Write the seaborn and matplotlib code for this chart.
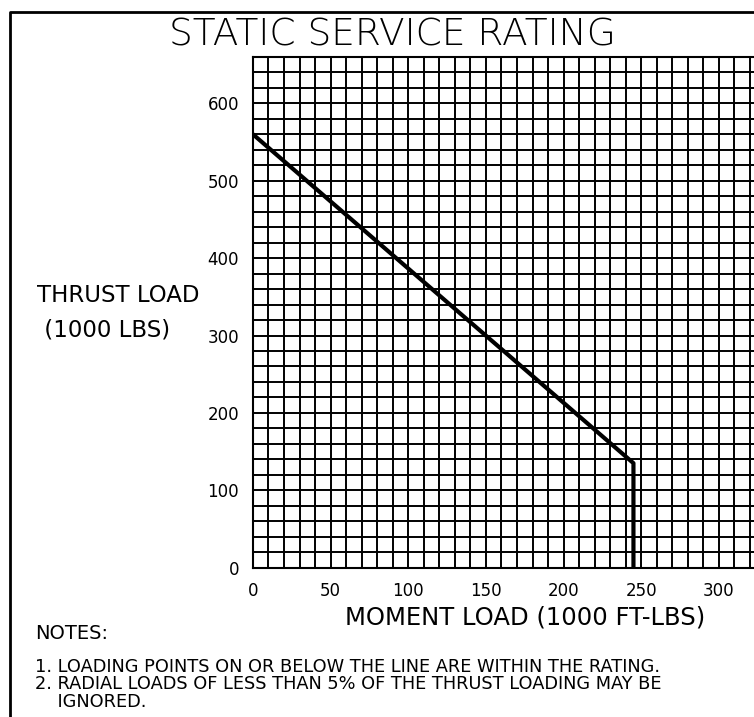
import matplotlib

matplotlib.use("Agg")
import matplotlib.pyplot as plt
import numpy as np
import pandas as pd
import seaborn as sns
from matplotlib.lines import Line2D

# rating line (moment in 1000 ft-lbs, thrust in 1000 lbs)
moment = [0, 245, 245]
thrust = [560, 135, 0]

x_ticks = [0, 50, 100, 150, 200, 250, 300]
y_ticks = [0, 100, 200, 300, 400, 500, 600]

title = "STATIC SERVICE RATING"
x_label = "MOMENT LOAD (1000 FT-LBS)"
y_label = "THRUST LOAD\n (1000 LBS)"
notes = [
    "1. LOADING POINTS ON OR BELOW THE LINE ARE WITHIN THE RATING.",
    "2. RADIAL LOADS OF LESS THAN 5% OF THE THRUST LOADING MAY BE",
    "    IGNORED.",
]

sns.set_style("white")
plt.rcParams["font.family"] = ["DejaVu Sans"]
plt.rcParams["text.color"] = "black"

fig = plt.figure(figsize=(7.54, 7.17), dpi=100)
ax = fig.add_axes([0.3355, 0.2083, 0.6797, 0.7123])

df = pd.DataFrame({"moment": moment, "thrust": thrust})
sns.lineplot(data=df, x="moment", y="thrust", sort=False, estimator=None,
             color="black", linewidth=3, ax=ax, zorder=5)

ax.set_xlim(0, 330)
ax.set_ylim(0, 660)
ax.set_xticks(x_ticks)
ax.set_yticks(y_ticks)
ax.set_xticks(np.arange(0, 331, 10), minor=True)
ax.set_yticks(np.arange(0, 661, 20), minor=True)
ax.grid(True, which="both", color="black", linewidth=1.4)
ax.tick_params(which="major", direction="out", length=9, width=1.5,
               labelsize=12, colors="black", pad=1)
ax.tick_params(which="minor", length=0)
ax.set_xlabel("")
ax.set_ylabel("")
for s in ax.spines.values():
    s.set_color("black")
    s.set_linewidth(1.5)

# outer drawing frame
fig.add_artist(Line2D([10 / 754, 10 / 754, 1], [0, 1 - 12 / 717, 1 - 12 / 717],
                      transform=fig.transFigure, color="black", linewidth=2))

fig.text(0.521, 0.951, title, ha="center", va="center", fontsize=27,
         fontweight="light")
fig.text(0.049, 0.564, y_label, ha="left", va="center", fontsize=16.5,
         linespacing=1.6)
fig.text(0.696, 0.139, x_label, ha="center", va="center", fontsize=17.5)
fig.text(0.046, 0.116, "NOTES:", ha="left", va="center", fontsize=14)
for i, line in enumerate(notes):
    fig.text(0.046, 0.07 - i * 0.0245, line, ha="left", va="center",
             fontsize=12.8)

fig.savefig("out.png", dpi=100)
